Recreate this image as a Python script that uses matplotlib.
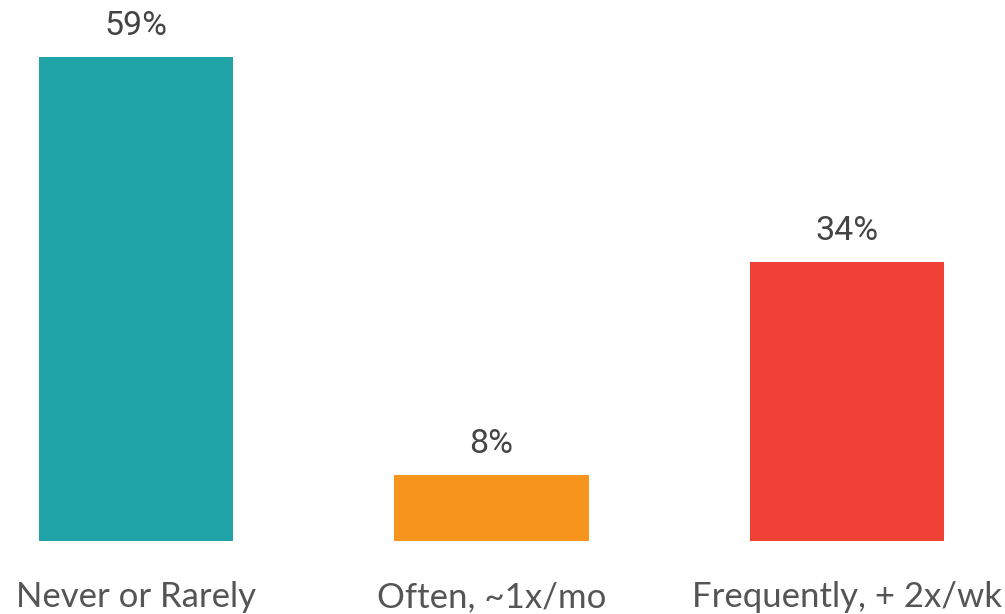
import matplotlib.pyplot as plt
import numpy as np

categories = ["Never or Rarely", "Often, ~1x/mo", "Frequently, + 2x/wk"]
values = [59, 8, 34]
colors = ["#20A4A8", "#F7941E", "#EF4136"]

fig = plt.figure(figsize=(10.05, 6.14), dpi=100)
# axes spans full width; baseline at 541px from top
ax = fig.add_axes([0, (614 - 541) / 614, 1, 541 / 614])

x = np.arange(len(categories))
bars = ax.bar(x, values, width=0.546, color=colors)

ax.set_xlim(-136 / 355.5, (1005 - 136) / 355.5)
ax.set_ylim(0, 541 / (484 / 59))

for b, v in zip(bars, values):
    ax.annotate(f"{v}%", (b.get_x() + b.get_width() / 2, v),
                xytext=(0, 11), textcoords="offset points",
                ha="center", va="bottom", fontsize=24.5,
                family="Roboto", color="#444444")

ax.set_xticks(x)
ax.set_xticklabels(categories, fontsize=25, family="Lato", color="#555555")
ax.tick_params(axis="x", length=0, pad=29)
ax.set_yticks([])
for s in ax.spines.values():
    s.set_visible(False)

fig.savefig("out.png", dpi=100)
